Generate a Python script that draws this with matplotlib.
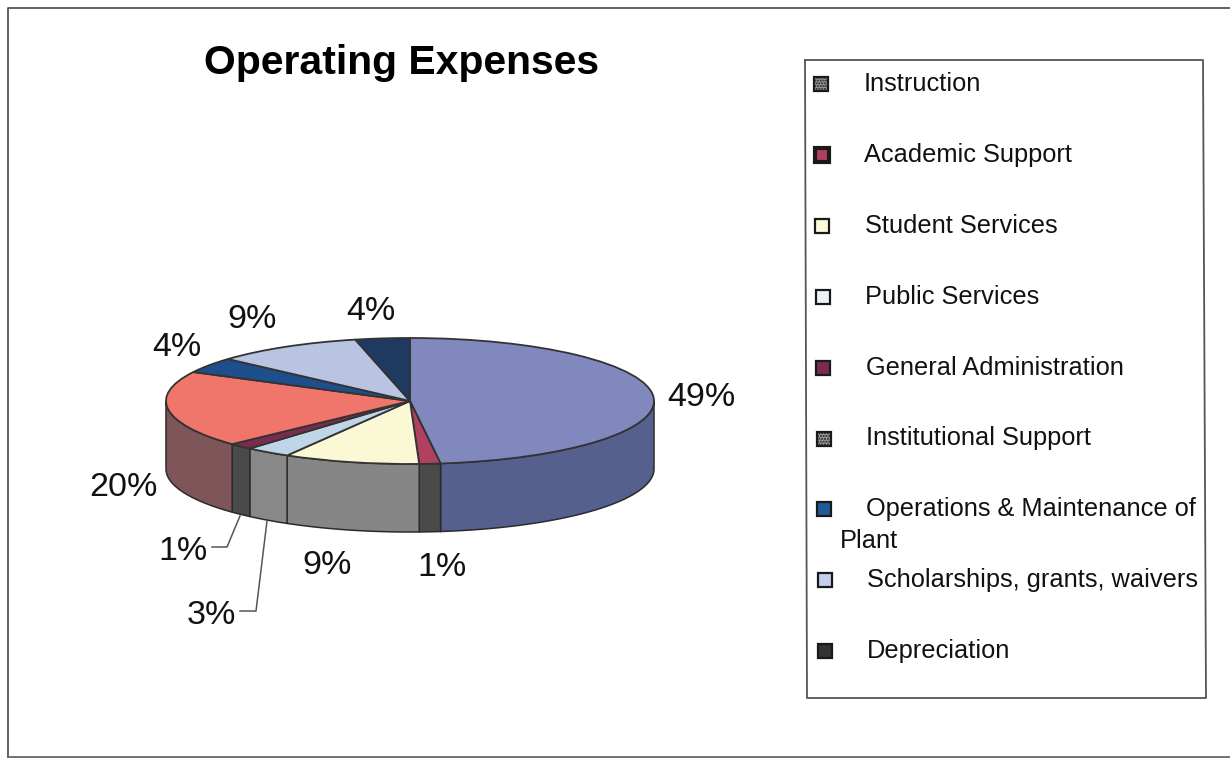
import numpy as np
import matplotlib
matplotlib.use("Agg")
import matplotlib.pyplot as plt
from matplotlib.patches import Rectangle

categories = ["Instruction", "Academic Support", "Student Services", "Public Services",
              "General Administration", "Institutional Support",
              "Operations & Maintenance of", "Scholarships, grants, waivers", "Depreciation"]
values = [48.0, 1.4, 9.0, 3.0, 1.6, 19.6, 4.0, 9.8, 3.6]
pct_labels = ["49%", "1%", "9%", "3%", "1%", "20%", "4%", "9%", "4%"]

top_colors = ["#8088BE", "#B0405F", "#FBF8D6", "#BFD5E8", "#7A2B4E",
              "#F0756A", "#1F4E8C", "#B8C4E2", "#1E3A60"]
side_colors = ["#56608F", "#4A4A4A", "#868686", "#888888", "#4A4A4A",
               "#7E5558", "#16396A", "#8A93AB", "#16293F"]
swatch_colors = ["#9A9A9A", "#B0405F", "#FBFBDC", "#EEF2F5", "#7A2B4E",
                 "#9C9C9C", "#1F5A9C", "#C4D0EA", "#333333"]

plt.rcParams["font.family"] = ["Liberation Sans", "DejaVu Sans"]

W, H = 1230, 759
cx, cy, rx, ry, depth = 410, 401, 244, 63, 68

fig = plt.figure(figsize=(W / 100, H / 100), dpi=100)

# pie axes fills the figure, one data unit = rx px across and ry px up
ax = fig.add_axes([0, 0, 1, 1])
wedges, _ = ax.pie(values, colors=top_colors, startangle=90, counterclock=False, radius=1,
                   wedgeprops={"edgecolor": "#333333", "linewidth": 1.3, "zorder": 3})
ax.set_aspect("auto")
ax.set_xlim(-cx / rx, (W - cx) / rx)
ax.set_ylim((cy - H) / ry, cy / ry)
ax.axis("off")
drop = depth / ry

# side wall of the front half
for w, col in zip(wedges, side_colors):
    a1, a2 = w.theta1 % 360, w.theta2 % 360
    if a2 <= a1:
        a2 += 360
    for lo, hi in [(a1, a2), (a1 + 360, a2 + 360), (a1 - 360, a2 - 360)]:
        lo, hi = max(lo, 180), min(hi, 360)
        if hi <= lo:
            continue
        t = np.radians(np.linspace(lo, hi, 60))
        xs = np.cos(t)
        ys = np.sin(t)
        ax.fill(np.r_[xs, xs[::-1]], np.r_[ys, ys[::-1] - drop], color=col,
                ec="#2b2b2b", lw=1.1, zorder=2)

# overlay in pixel coords for text, frames, leader lines
ov = fig.add_axes([0, 0, 1, 1], facecolor="none")
ov.set_xlim(0, W)
ov.set_ylim(H, 0)
ov.axis("off")

ov.plot([8, 8, 1230], [757, 8, 8], color="#555555", lw=1.3)
ov.plot([8, 1230], [757, 757], color="#666666", lw=1.3)

ov.text(401, 63, "Operating Expenses", fontsize=29.4, fontweight="bold",
        ha="center", va="center", color="black")

label_xy = [(701, 398), (442, 567), (327, 566), (211, 616), (183, 551),
            (123, 487), (177, 348), (252, 320), (371, 312)]
for s, (x, y) in zip(pct_labels, label_xy):
    ov.text(x, y, s, fontsize=24.5, ha="center", va="center", color="#111111")

ov.plot([212, 227, 240], [547, 547, 516], color="#555555", lw=1.1)
ov.plot([240, 256, 267], [611, 611, 521], color="#555555", lw=1.1)

# legend box
ov.plot([805, 1203, 1206, 807, 805], [60, 60, 698, 698, 60], color="#555555", lw=1.3)
step = 70.9
for i, (name, col) in enumerate(zip(categories, swatch_colors)):
    sy = 84 + step * i
    sx = 821 + 0.5 * i
    hatch = "......" if i in (0, 5) else None
    edge_w = 3 if i == 1 else 1.6
    ov.add_patch(Rectangle((sx - 7, sy - 7), 14, 14, facecolor=col, edgecolor="#1a1a1a",
                           lw=edge_w, hatch=hatch))
    ov.text(864 + 0.4 * i, sy, name, fontsize=18.3, ha="left", va="center", color="#111111")
ov.text(840, 541, "Plant", fontsize=18.3, ha="left", va="center", color="#111111")

fig.savefig("out.png", dpi=100, facecolor="white")
